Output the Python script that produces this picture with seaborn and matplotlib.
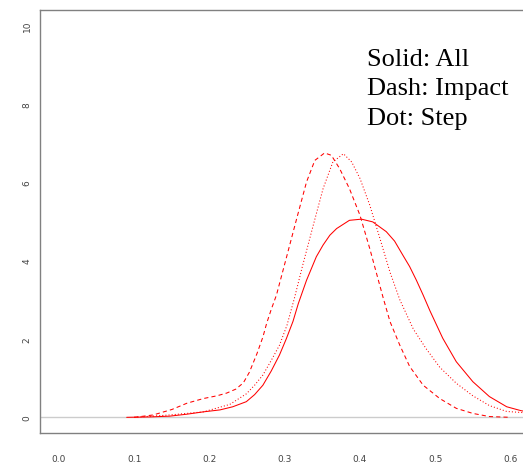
import pandas as pd
import seaborn as sns
import matplotlib.pyplot as plt

# density curves
all_x = [0.09, 0.12, 0.147, 0.17, 0.192, 0.214, 0.231, 0.249, 0.26, 0.271, 0.282, 0.293,
         0.302, 0.311, 0.318, 0.329, 0.342, 0.351, 0.36, 0.369, 0.386, 0.402, 0.417,
         0.435, 0.446, 0.457, 0.466, 0.475, 0.484, 0.493, 0.51, 0.528, 0.55, 0.572,
         0.595, 0.614, 0.64]
all_y = [0.0, 0.01, 0.03, 0.08, 0.14, 0.19, 0.27, 0.40, 0.58, 0.82, 1.18, 1.59,
         2.0, 2.45, 2.9, 3.5, 4.1, 4.4, 4.65, 4.82, 5.03, 5.06, 4.99,
         4.74, 4.5, 4.14, 3.85, 3.5, 3.12, 2.72, 2.02, 1.42, 0.91, 0.53,
         0.27, 0.17, 0.08]

impact_x = [0.10, 0.125, 0.15, 0.17, 0.192, 0.21, 0.223, 0.235, 0.245, 0.253, 0.263, 0.271,
            0.276, 0.282, 0.289, 0.302, 0.316, 0.329, 0.340, 0.353, 0.362, 0.373, 0.386,
            0.400, 0.413, 0.431, 0.440, 0.453, 0.466, 0.484, 0.506, 0.528, 0.550, 0.572,
            0.60]
impact_y = [0.0, 0.06, 0.2, 0.36, 0.48, 0.55, 0.62, 0.72, 0.88, 1.15, 1.62, 2.05,
            2.4, 2.75, 3.12, 4.06, 5.08, 6.01, 6.56, 6.75, 6.69, 6.35, 5.84,
            5.16, 4.31, 3.04, 2.44, 1.84, 1.3, 0.82, 0.48, 0.23, 0.10, 0.02,
            0.0]

step_x = [0.10, 0.147, 0.192, 0.227, 0.249, 0.26, 0.271, 0.282, 0.293, 0.303, 0.313, 0.324,
          0.338, 0.351, 0.364, 0.378, 0.389, 0.400, 0.413, 0.426, 0.440, 0.453, 0.471,
          0.488, 0.506, 0.528, 0.550, 0.572, 0.595, 0.617, 0.64]
step_y = [0.0, 0.06, 0.14, 0.33, 0.6, 0.82, 1.08, 1.45, 1.84, 2.35, 3.05, 3.89,
          4.91, 5.84, 6.52, 6.73, 6.52, 6.10, 5.42, 4.6, 3.7, 3.0, 2.25,
          1.75, 1.28, 0.87, 0.55, 0.3, 0.15, 0.12, 0.06]

x_ticks = [0.0, 0.1, 0.2, 0.3, 0.4, 0.5, 0.6]
y_ticks = [0, 2, 4, 6, 8, 10]
legend_lines = ['Solid: All', 'Dash: Impact', 'Dot: Step']

df = pd.concat([
    pd.DataFrame({'x': all_x, 'density': all_y, 'group': 'All'}),
    pd.DataFrame({'x': impact_x, 'density': impact_y, 'group': 'Impact'}),
    pd.DataFrame({'x': step_x, 'density': step_y, 'group': 'Step'}),
])

sns.set_style('white')
fig = plt.figure(figsize=(5.23, 4.64), dpi=100)
ax = fig.add_axes([40 / 523, 30 / 464, 512 / 523, 423 / 464])

ax.axhline(0, color='#cccccc', lw=1, zorder=1)
sns.lineplot(data=df, x='x', y='density', style='group', color='red',
             dashes={'All': '', 'Impact': (4, 3), 'Step': (1, 2)},
             sort=False, estimator=None, legend=False, lw=0.75, ax=ax)

ax.set_xlim(-0.0252, 0.6552)
ax.set_ylim(-0.4, 10.4)
ax.set_xticks(x_ticks)
ax.set_xticklabels([f'{v:.1f}' for v in x_ticks])
ax.set_yticks(y_ticks)
ax.set_yticklabels([str(v) for v in y_ticks], rotation=90, va='center')
ax.set_xlabel('')
ax.set_ylabel('')

for s in ax.spines.values():
    s.set_color('#808080')
    s.set_linewidth(1)
ax.tick_params(axis='both', direction='out', length=5, width=0.8, color='#808080',
               labelsize=6.5, labelcolor='#444444')
ax.tick_params(axis='x', pad=10)
ax.tick_params(axis='y', pad=1)

for i, t in enumerate(legend_lines):
    fig.text(367 / 523, 1 - (66 + 29.5 * i) / 464, t, family='Liberation Serif',
             fontsize=19, va='baseline', ha='left', color='black')

fig.savefig('out.png', dpi=100)
